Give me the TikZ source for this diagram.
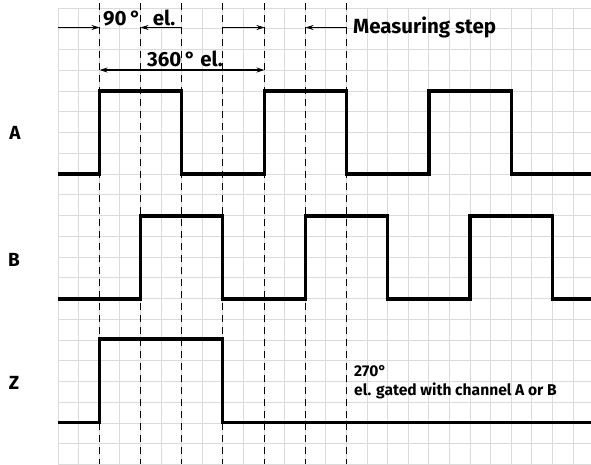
\documentclass[tikz,border=0pt]{standalone}
\usepackage{fontspec}
\setmainfont{Fira Sans}
\usetikzlibrary{arrows.meta}
\begin{document}
\begin{tikzpicture}[x=1pt,y=-1pt,
  gridline/.style={draw=black!14, line width=0.9pt},
  guide/.style={dash pattern=on 7pt off 5pt, line width=1.5pt},
  signal/.style={line width=3.4pt, line join=miter},
  dim/.style={line width=1.2pt, -{Stealth[length=8pt,width=5pt]}},
  dimboth/.style={line width=1.2pt, {Stealth[length=8pt,width=5pt]}-{Stealth[length=8pt,width=5pt]}},
  lbl/.style={font=\bfseries\fontsize{19}{19}\selectfont, inner sep=0pt},
  txt/.style={font=\bfseries\fontsize{20.5}{20.5}\selectfont, anchor=base west, inner sep=0pt},
  note/.style={font=\bfseries\fontsize{15.6}{15.6}\selectfont, anchor=base west, inner sep=0pt}]
\useasboundingbox (0,0) rectangle (591,464);
% grid
\begin{scope}
\clip (0,0) rectangle (591,464);
\foreach \k in {0,...,26} \draw[gridline] ({58+20.6*\k},8) -- ({58+20.6*\k},464);
\foreach \j in {0,...,22} \draw[gridline] (58,{8+20.75*\j}) -- (591,{8+20.75*\j});
\end{scope}
% dashed guide lines
\foreach \i/\xx in {1/99.5,2/140.5,3/181.5,4/222.5,5/264.5,6/305.5,7/346.5} {
  \coordinate (d\i) at (\xx,3);
  \draw[guide] (d\i) -- (\xx,464);
}
% signals
\draw[signal] (58,174) -- (99.5,174) -- (99.5,91) -- (181.5,91) -- (181.5,174) -- (264.5,174) -- (264.5,91) -- (346.5,91) -- (346.5,174) -- (428.8,174) -- (428.8,91) -- (511.2,91) -- (511.2,174) -- (591,174);
\draw[signal] (58,299) -- (140.5,299) -- (140.5,216) -- (222.5,216) -- (222.5,299) -- (305.5,299) -- (305.5,216) -- (387.6,216) -- (387.6,299) -- (470,299) -- (470,216) -- (552.4,216) -- (552.4,299) -- (591,299);
\draw[signal] (58,422.5) -- (99.5,422.5) -- (99.5,339) -- (222.5,339) -- (222.5,422.5) -- (591,422.5);
% dimension arrows
\coordinate (s0) at (58,27.5);
\coordinate (r2) at (58,70);
\draw[dim] (s0) -- (s0 -| d1);
\draw[dim] (s0 -| d3) -- (s0 -| d2);
\draw[dim] (s0 -| d4) -- (s0 -| d5);
\draw[dim] (s0 -| d7) -- (s0 -| d6);
\draw[dimboth] (r2 -| d1) -- (r2 -| d5);
% texts
\node[txt] (t90) at (103,25) {90\,°\hspace{12pt}el.};
\node[txt] (t360) at (147,66) {360\,° el.};
\node[txt] (tms) at (353,33) {Measuring step};
\node[note] (t270) at (354,376) {270°};
\node[note] (tgate) at (354,395) {el. gated with channel A or B};
% channel labels
\node[lbl] (la) at (15,133) {A};
\node[lbl] (lb) at (14,260) {B};
\node[lbl] (lz) at (14,383) {Z};
\end{tikzpicture}
\end{document}
